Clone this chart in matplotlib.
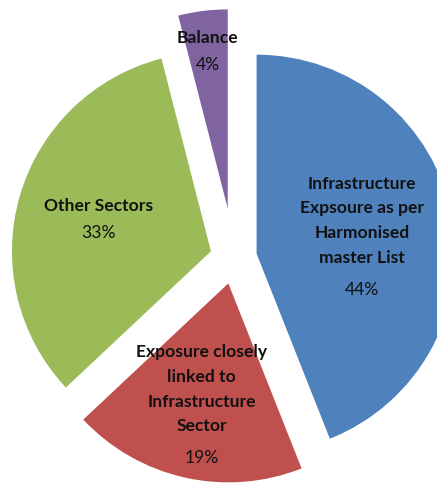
import matplotlib.pyplot as plt
import numpy as np

# data
names = ['Infrastructure\nExpsoure as per\nHarmonised\nmaster List',
         'Exposure closely\nlinked to\nInfrastructure\nSector',
         'Other Sectors',
         'Balance']
shares = [44, 19, 33, 4]
pct_labels = ['44%', '19%', '33%', '4%']

colors = ['#4F81BD', '#C0504D', '#9BBB59', '#8064A2']
explode = [23, 26, 24, 50]       # in pixels, pie doesn't scale explode by radius
label_frac = [0.54, 0.61, 0.59, 0.80]

W, H = 437, 485
fig = plt.figure(figsize=(W / 100, H / 100), dpi=100)
ax = fig.add_axes([0, 0, 1, 1])

R = 199
wedges, _ = ax.pie(shares, colors=colors, explode=explode, radius=R,
                   center=(234, 226), startangle=90, counterclock=False,
                   wedgeprops=dict(linewidth=0))
# pie resets the limits, so set them afterwards
ax.set_xlim(0, W)
ax.set_ylim(0, H)
ax.set_aspect('equal')
ax.axis('off')

L = 27.5  # line step in px
font = ['Lato', 'DejaVu Sans']
for w, name, pct, f in zip(wedges, names, pct_labels, label_frac):
    mid = np.deg2rad((w.theta1 + w.theta2) / 2)
    cx = w.center[0] + f * R * np.cos(mid)
    cy = w.center[1] + f * R * np.sin(mid)
    n = name.count('\n') + 1
    ax.text(cx, cy + L / 2, name, ha='center', va='center', fontsize=12.6,
            fontweight='bold', family=font, color='#111111', linespacing=1.68)
    ax.text(cx, cy - n * L / 2, pct, ha='center', va='center', fontsize=12.6,
            family=font, color='#111111')

fig.savefig('out.png', dpi=100)
